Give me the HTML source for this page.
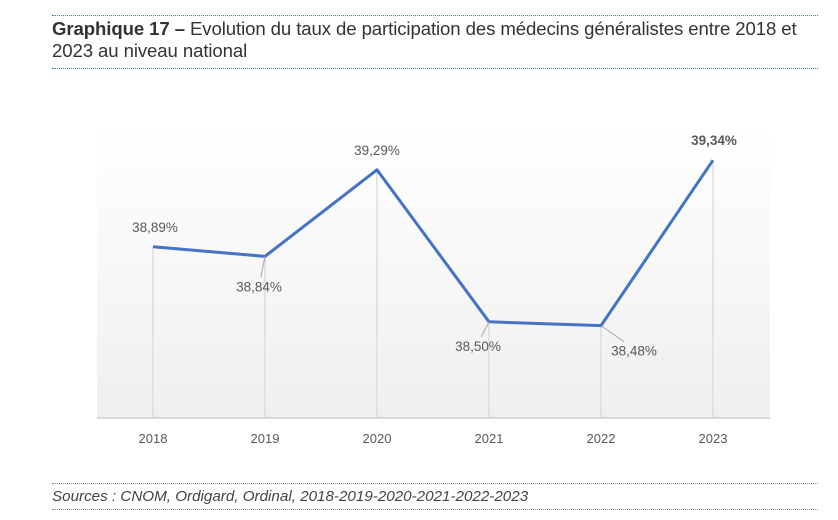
<!DOCTYPE html>
<html><head><meta charset="utf-8"><style>
body{margin:0;width:838px;height:520px;background:#fff;font-family:"Liberation Sans",Arial,sans-serif;position:relative;overflow:hidden}
#title{position:absolute;left:52px;top:15px;width:766px;border-top:1px dotted #2e75b6;border-bottom:1px dotted #2e75b6;font-size:18.6px;line-height:22px;color:#333;padding:2px 0 6px 0;box-sizing:border-box;height:54px;white-space:nowrap;letter-spacing:-0.1px}
#src{position:absolute;left:52px;top:483px;width:766px;border-top:1px dotted #888;border-bottom:1px dotted #888;font-size:15.2px;font-style:italic;color:#444;height:27px;line-height:25px;box-sizing:border-box}
svg{position:absolute;left:0;top:0}
</style></head><body>
<div id="title"><b>Graphique 17 –</b> Evolution du taux de participation des médecins généralistes entre 2018 et<br>2023 au niveau national</div>
<svg width="838" height="520">
<defs><linearGradient id="bg" x1="0" y1="0" x2="0" y2="1"><stop offset="0" stop-color="#fff"/><stop offset="1" stop-color="#efefef"/></linearGradient></defs>
<rect x="97" y="125" width="673" height="293" fill="url(#bg)"/>
<g id="g"></g>
</svg>
<div id="src">Sources : CNOM, Ordigard, Ordinal, 2018-2019-2020-2021-2022-2023</div>
<script>
const categories=["2018","2019","2020","2021","2022","2023"];
const values=[38.89,38.84,39.29,38.50,38.48,39.34];
const labels=["38,89%","38,84%","39,29%","38,50%","38,48%","39,34%"];
const x=i=>153+i*112;
const y=v=>418-(v-38.0)*192.4;
const NS="http://www.w3.org/2000/svg",g=document.getElementById('g');
function el(t,a){const e=document.createElementNS(NS,t);for(const k in a)e.setAttribute(k,a[k]);g.appendChild(e);return e;}
const ax=el('line',{x1:97,x2:770,y1:418,y2:418,stroke:'#d9d9d9','stroke-width':2});


const off=[[2,-15,0],[-6,35,1],[0,-15,0],[-11,29,1],[33,30,1],[1,-15,0]];
categories.forEach((c,i)=>{
  const dl=el('line',{x1:x(i),x2:x(i),y1:y(values[i]),y2:418,stroke:'#d0d0d0','stroke-width':1});
  
  
  const t=el('text',{x:x(i),y:443,'text-anchor':'middle','font-size':13,fill:'#595959'});t.textContent=c;
  
  
});
const pts=values.map((v,i)=>x(i)+','+y(v)).join(' ');
const pl=el('polyline',{points:pts,fill:'none',stroke:'#4472c4','stroke-width':3,'stroke-linejoin':'round'});


values.forEach((v,i)=>{
  const px=x(i),py=y(v),o=off[i];
  if(o[2]){const l=el('line',{x1:px,y1:py,x2:px+o[0]*0.7,y2:py+o[1]-14,stroke:'#a6a6a6','stroke-width':1});
    
    }
  const t=el('text',{x:px+o[0],y:py+o[1],'text-anchor':'middle','font-size':13.5,fill:'#595959','font-weight':i==5?'bold':'normal'});
  t.textContent=labels[i];
  
  
});
</script>
</body></html>
